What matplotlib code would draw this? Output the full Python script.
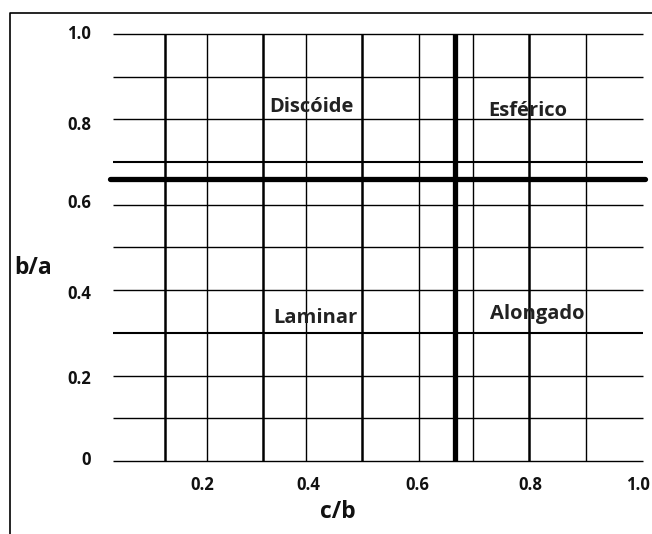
import matplotlib
matplotlib.use("Agg")
import matplotlib.pyplot as plt
from matplotlib.lines import Line2D

# grid lines (c/b on x, b/a on y)
vlines_thick = [0.098, 0.283, 0.470, 0.785]
vlines_thin = [0.177, 0.364, 0.577, 0.679, 0.892]
hlines_thin = [0.0, 0.1, 0.2, 0.4, 0.5, 0.6, 0.8, 0.9, 1.0]
hlines_mid = [0.3, 0.7]
border_cb = 0.645   # heavy vertical line
border_ba = 0.66    # heavy horizontal line

x_tick_pos = [0.168, 0.368, 0.575, 0.787, 0.99]
x_tick_labels = ["0.2", "0.4", "0.6", "0.8", "1.0"]
y_tick_pos = [0.007, 0.197, 0.396, 0.61, 0.792, 1.005]
y_tick_labels = ["0", "0.2", "0.4", "0.6", "0.8", "1.0"]

region_names = ["Discóide", "Esférico", "Laminar", "Alongado"]
region_x = [0.375, 0.783, 0.381, 0.80]
region_y = [0.829, 0.82, 0.335, 0.344]

plt.rcParams["font.family"] = ["Open Sans", "DejaVu Sans"]
plt.rcParams["font.weight"] = "bold"

fig = plt.figure(figsize=(6.52, 5.34), dpi=100)
ax = fig.add_axes([0.157, 0.1208, 0.8454, 0.8315])
ax.set_xlim(-0.02, 1.02)
ax.set_ylim(-0.02, 1.02)

ax.vlines(vlines_thick, 0, 1, color="black", lw=1.8)
ax.vlines(vlines_thin, 0, 1, color="black", lw=1.0)
ax.hlines(hlines_thin, 0, 1, color="black", lw=1.0)
ax.hlines(hlines_mid, 0, 1, color="black", lw=1.5)
ax.vlines(border_cb, 0, 1.0, color="black", lw=3.8)
ax.hlines(border_ba, -0.006, 1.004, color="black", lw=3.8, capstyle="round")

for name, x, y in zip(region_names, region_x, region_y):
    ax.text(x, y, name, ha="center", va="center", fontsize=14.5,
            fontweight="bold", color="#222222")

ax.set_xticks(x_tick_pos, x_tick_labels)
ax.set_yticks(y_tick_pos, y_tick_labels)
ax.tick_params(length=0, labelsize=12, labelcolor="#111111")
ax.tick_params(axis="x", pad=5)
ax.tick_params(axis="y", pad=8)
for s in ax.spines.values():
    s.set_visible(False)

fig.text(338 / 652, 1 - 512 / 534, "c/b", fontsize=16.5, fontweight="bold",
         ha="center", va="center", color="#111111")
fig.text(33 / 652, 1 - 268 / 534, "b/a", fontsize=16.5, fontweight="bold",
         ha="center", va="center", color="#111111")

# outer frame (left and top edges visible)
fig.add_artist(Line2D([10 / 652, 10 / 652, 1.0], [0.0, 1 - 13 / 534, 1 - 13 / 534],
                      color="black", lw=1.2, transform=fig.transFigure))

fig.savefig("out.png", dpi=100)
